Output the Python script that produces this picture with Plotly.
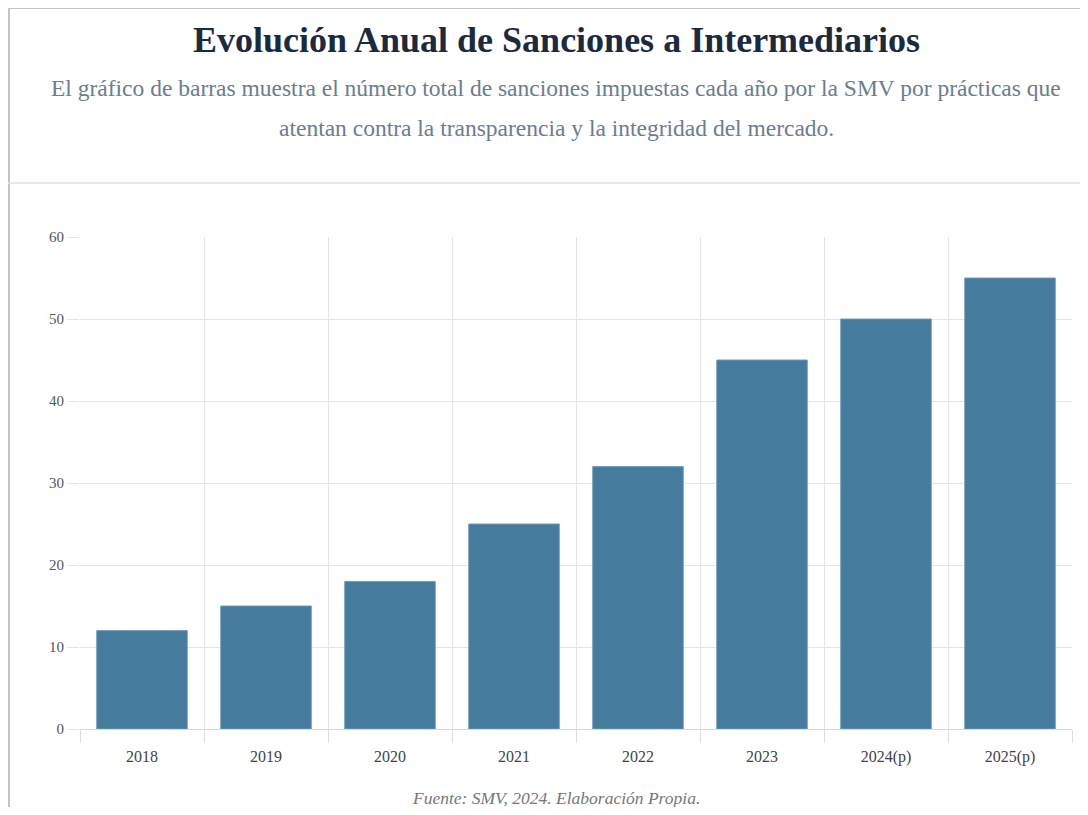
import plotly.graph_objects as go

years = ["2018", "2019", "2020", "2021", "2022", "2023", "2024(p)", "2025(p)"]
sanciones = [12, 15, 18, 25, 32, 45, 50, 55]
y_ticks = [0, 10, 20, 30, 40, 50, 60]

titulo = "Evolución Anual de Sanciones a Intermediarios"
subtitulo_1 = "El gráfico de barras muestra el número total de sanciones impuestas cada año por la SMV por prácticas que"
subtitulo_2 = "atentan contra la transparencia y la integridad del mercado."
fuente = "Fuente: SMV, 2024. Elaboración Propia."

W, H = 1072, 799
ML, MR, MT, MB = 72, 8, 229, 78
PW, PH = W - ML - MR, H - MT - MB


def px(x):
    # pixel x in figure -> paper coordinate
    return (x - ML) / PW


def py(y):
    # pixel y in figure (from top) -> paper coordinate
    return (H - MB - y) / PH


serif = "Liberation Serif, Georgia, serif"

fig = go.Figure(go.Bar(
    x=years,
    y=sanciones,
    marker=dict(color="#457b9d", line=dict(color="#6f9cbb", width=1)),
    hoverinfo="x+y",
))

fig.update_layout(
    width=W, height=H,
    margin=dict(l=ML, r=MR, t=MT, b=MB),
    paper_bgcolor="white",
    plot_bgcolor="white",
    bargap=0.27,
    showlegend=False,
    font=dict(family=serif, color="#444"),
)

fig.update_xaxes(
    showgrid=True, gridcolor="#e4e4ea", gridwidth=1,
    tickson="boundaries", ticks="outside", ticklen=13, tickcolor="#dcdce2",
    showline=False, zeroline=False,
    ticklabelstandoff=16,
    tickfont=dict(size=16, color="#444"),
)
fig.update_yaxes(
    range=[0, 60], tickvals=y_ticks,
    showgrid=True, gridcolor="#e4e4ea", gridwidth=1,
    zeroline=True, zerolinecolor="#d8d8de", zerolinewidth=1,
    ticks="outside", ticklen=12, tickcolor="#e4e4ea",
    tickfont=dict(size=15, color="#555"),
    showline=False,
)

fig.add_annotation(
    text="<b>" + titulo + "</b>", xref="paper", yref="paper",
    x=px(548), y=py(32), showarrow=False, xanchor="center", yanchor="middle",
    font=dict(family=serif, size=36, color="#1b2a3c"),
)
for texto, yy in [(subtitulo_1, 80), (subtitulo_2, 120)]:
    fig.add_annotation(
        text=texto, xref="paper", yref="paper",
        x=px(548), y=py(yy), showarrow=False, xanchor="center", yanchor="middle",
        font=dict(family=serif, size=23.5, color="#6b7d90"),
    )
fig.add_annotation(
    text="<i>" + fuente + "</i>", xref="paper", yref="paper",
    x=px(548), y=py(790), showarrow=False, xanchor="center", yanchor="middle",
    font=dict(family=serif, size=17.5, color="#777"),
)

# frame around the card and header separator
fig.add_shape(type="line", xref="paper", yref="paper",
              x0=px(1), x1=px(1), y0=py(-1), y1=py(H + 20),
              line=dict(color="#c4c4c4", width=2))
fig.add_shape(type="line", xref="paper", yref="paper",
              x0=px(0), x1=px(W + 20), y0=py(0), y1=py(0),
              line=dict(color="#c4c4c4", width=2))
fig.add_shape(type="line", xref="paper", yref="paper",
              x0=px(0), x1=px(W + 20), y0=py(175), y1=py(175),
              line=dict(color="#e2e2e8", width=1.5))

fig.write_html("out.html")
